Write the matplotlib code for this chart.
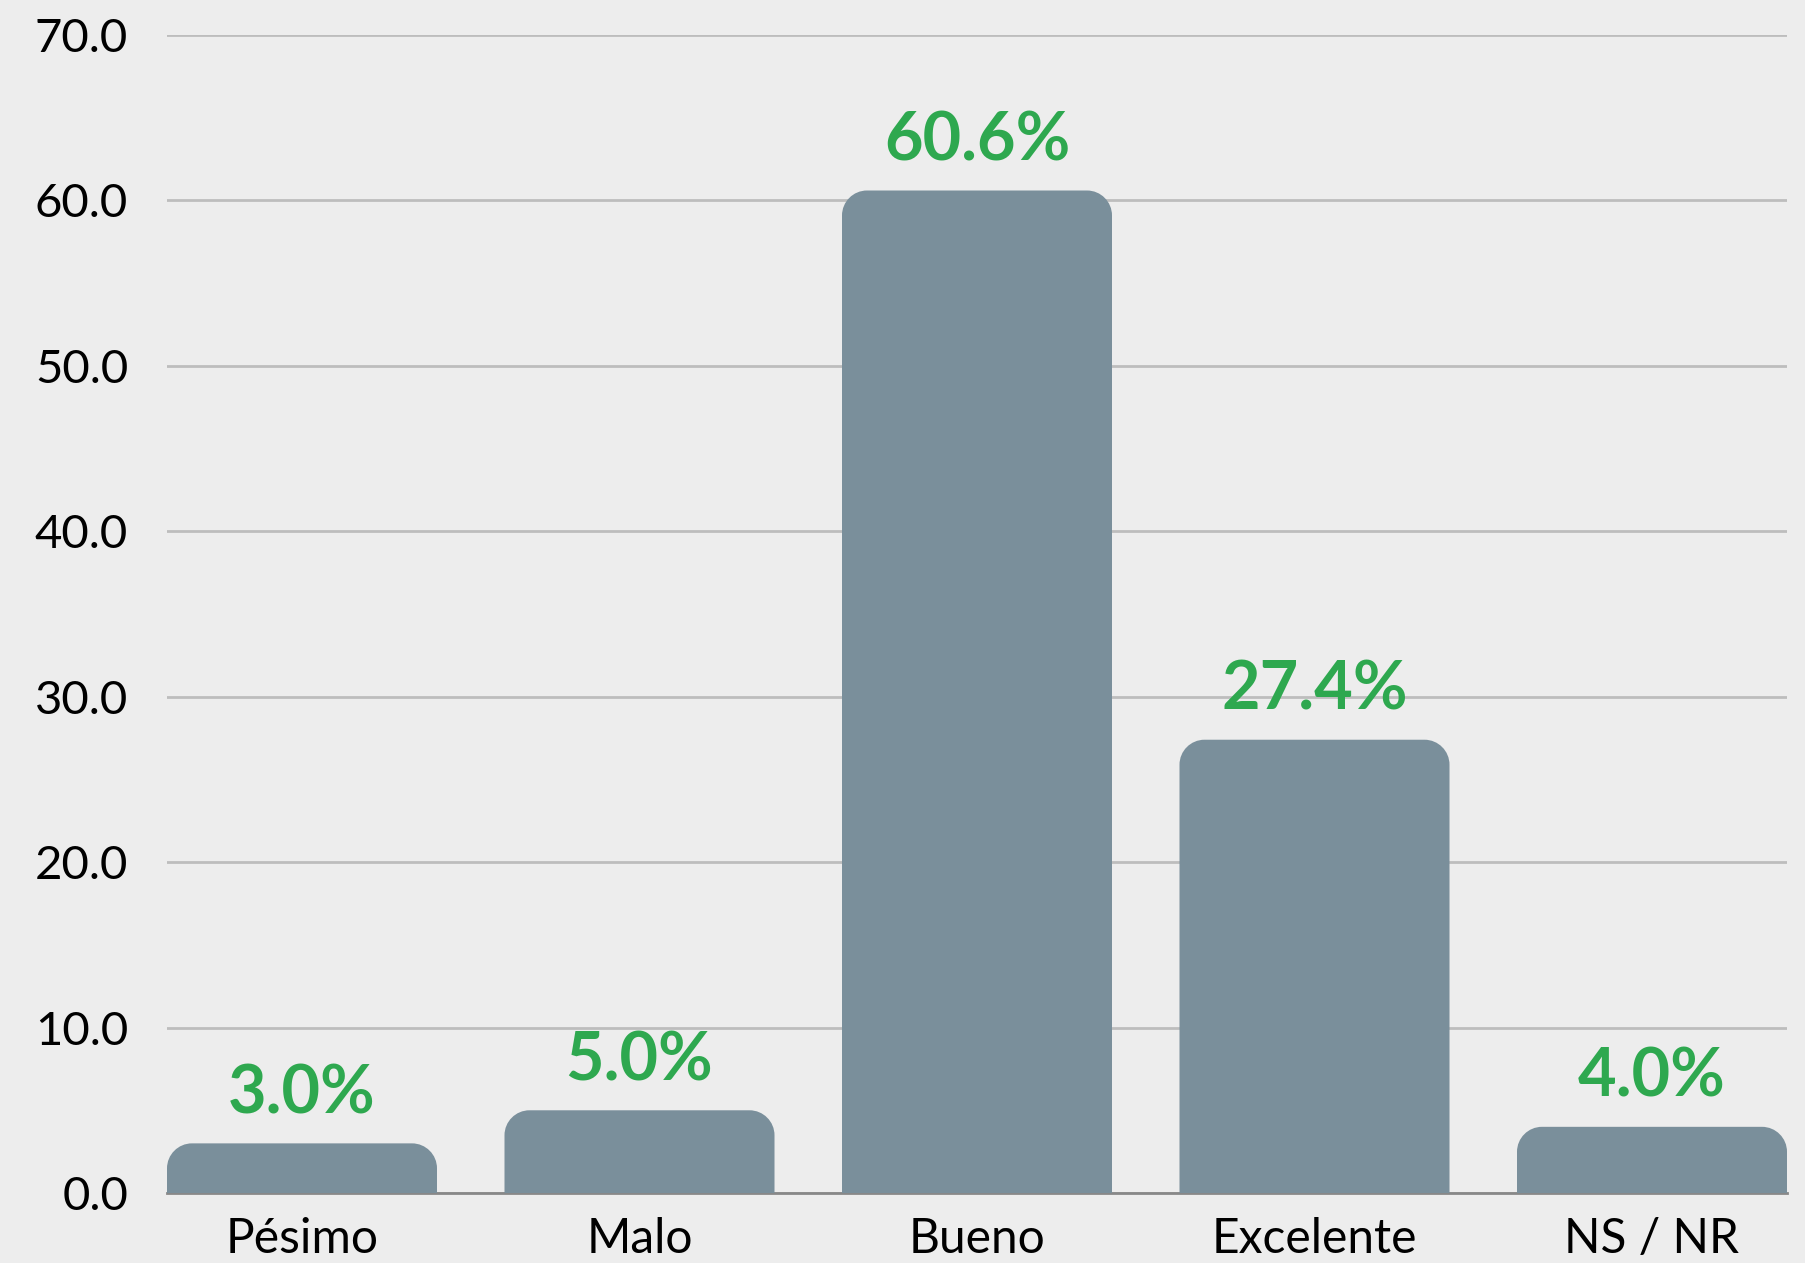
import matplotlib
matplotlib.use("Agg")
import matplotlib.pyplot as plt
from matplotlib.path import Path
from matplotlib.patches import PathPatch

categories = ["Pésimo", "Malo", "Bueno", "Excelente", "NS / NR"]
values = [3.0, 5.0, 60.6, 27.4, 4.0]
yticks = [0, 10, 20, 30, 40, 50, 60, 70]

BG = "#EDEDED"
BAR = "#7A8F9B"
GREEN = "#2EA84F"

plt.rcParams['font.family'] = ['Lato', 'DejaVu Sans']

W, H = 1806, 1263
fig = plt.figure(figsize=(W / 100, H / 100), dpi=100, facecolor=BG)
ax = fig.add_axes([167 / W, 1 - 1193 / H, (1787 - 167) / W, (1193 - 35) / H])
ax.set_facecolor(BG)

x = list(range(len(categories)))
bars = ax.bar(x, values, width=0.8, color=BAR, zorder=3)
ax.set_xlim(-0.4, len(categories) - 0.6)
ax.set_ylim(0, 70)

# replace bars with top-rounded versions
fig.canvas.draw()
ppx = ax.transData.transform((1, 0))[0] - ax.transData.transform((0, 0))[0]
ppy = ax.transData.transform((0, 1))[1] - ax.transData.transform((0, 0))[1]
rpx = 25
for b in bars:
    x0, w, h = b.get_x(), b.get_width(), b.get_height()
    rx = rpx / ppx
    ry = min(rpx / ppy, h)
    k = 0.5523
    verts = [
        (x0, 0), (x0, h - ry),
        (x0, h - ry + k * ry), (x0 + rx - k * rx, h), (x0 + rx, h),
        (x0 + w - rx, h),
        (x0 + w - rx + k * rx, h), (x0 + w, h - ry + k * ry), (x0 + w, h - ry),
        (x0 + w, 0), (x0, 0),
    ]
    codes = [Path.MOVETO, Path.LINETO,
             Path.CURVE4, Path.CURVE4, Path.CURVE4,
             Path.LINETO,
             Path.CURVE4, Path.CURVE4, Path.CURVE4,
             Path.LINETO, Path.CLOSEPOLY]
    ax.add_patch(PathPatch(Path(verts, codes), facecolor=BAR, edgecolor='none', zorder=3))
    b.set_visible(False)
    ax.annotate(f"{h:.1f}%", (x0 + w / 2, h), xytext=(0, 13), textcoords='offset points',
                ha='center', va='bottom', color=GREEN, fontsize=48, fontweight='bold', zorder=4)

ax.set_yticks(yticks)
ax.set_yticklabels([f"{v:.1f}" for v in yticks], fontsize=34, color='black')
ax.set_xticks(x)
ax.set_xticklabels(categories, fontsize=34.5, color='black')
ax.tick_params(axis='y', length=0, pad=28)
ax.tick_params(axis='x', length=0, pad=17)
ax.yaxis.grid(True, color='#BDBDBD', linewidth=2, zorder=1)
ax.set_axisbelow(True)
for s in ['top', 'right', 'left']:
    ax.spines[s].set_visible(False)
ax.spines['bottom'].set_color('#888888')
ax.spines['bottom'].set_linewidth(2)
ax.spines['bottom'].set_zorder(2)

fig.savefig("out.png", dpi=100, facecolor=BG)
